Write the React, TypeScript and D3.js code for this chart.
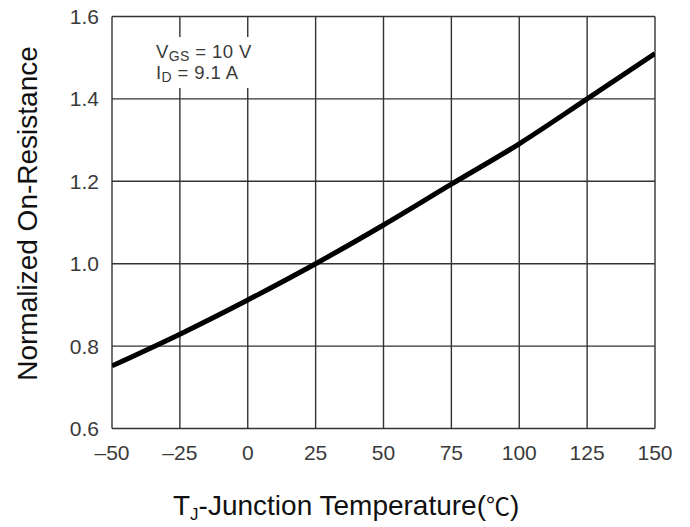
import React from "react";
import * as d3 from "d3";

const temps = [-50, -25, 0, 25, 50, 75, 100, 125, 150];
const resistance = [0.752, 0.829, 0.912, 1.0, 1.094, 1.193, 1.291, 1.4, 1.51];
const xTicks = [-50, -25, 0, 25, 50, 75, 100, 125, 150];
const yTicks = [0.6, 0.8, 1.0, 1.2, 1.4, 1.6];
const yLabel = "Normalized On-Resistance";
const noteLines = [
  { main: "V", sub: "GS", rest: " = 10 V" },
  { main: "I", sub: "D", rest: " = 9.1 A" },
];

const W = 690;
const H = 527;
const M = { left: 112, right: 655, top: 16.5, bottom: 428.5 };
const FONT = "'Liberation Sans', Arial, Helvetica, sans-serif";

export default function App() {
  const x = d3.scaleLinear().domain([-50, 150]).range([M.left, M.right]);
  const y = d3.scaleLinear().domain([0.6, 1.6]).range([M.bottom, M.top]);
  const line = d3
    .line<number>()
    .x((_, i) => x(temps[i]))
    .y((d) => y(d))
    .curve(d3.curveMonotoneX);
  const path = line(resistance) || "";
  const gridColor = "#333";
  const textColor = "#3a3a3a";

  return (
    <div style={{ position: "absolute", left: 0, top: 0 }}>
      <svg width={W} height={H} style={{ display: "block", background: "#fff" }}>
        <defs>
          <clipPath id="plotClip">
            <rect x={M.left} y={M.top} width={M.right - M.left} height={M.bottom - M.top} />
          </clipPath>
        </defs>
        <rect x={0} y={0} width={W} height={H} fill="#fff" />
        {/* grid */}
        {xTicks.map((t) => (
          <line
            key={"gx" + t}
            x1={x(t)}
            x2={x(t)}
            y1={M.top}
            y2={M.bottom}
            stroke={gridColor}
            strokeWidth={1.4}
          />
        ))}
        {yTicks.map((t) => (
          <line
            key={"gy" + t}
            x1={M.left}
            x2={M.right}
            y1={y(t)}
            y2={y(t)}
            stroke={gridColor}
            strokeWidth={1.4}
          />
        ))}
        {/* note box background */}
        <rect x={150} y={37} width={122} height={51} fill="#fff" />
        <g fontFamily={FONT} fill={textColor}>
          {noteLines.map((l, i) => (
            <text key={i} x={156} y={57.5 + i * 21.5} fontSize={18.5} letterSpacing={0.4}>
              {l.main}
              <tspan fontSize={14} dy={3}>
                {l.sub}
              </tspan>
              <tspan dy={-3}>{l.rest}</tspan>
            </text>
          ))}
        </g>
        {/* curve */}
        <path
          d={path}
          fill="none"
          stroke="#000"
          strokeWidth={5}
          strokeLinejoin="round"
          clipPath="url(#plotClip)"
        />
        {/* tick labels */}
        <g fontFamily={FONT} fill={textColor} fontSize={21}>
          {yTicks.map((t) => (
            <text key={"ly" + t} x={M.left - 13} y={y(t)} textAnchor="end" dominantBaseline="central">
              {t.toFixed(1)}
            </text>
          ))}
          {xTicks.map((t) => (
            <text key={"lx" + t} x={x(t)} y={460} textAnchor="middle">
              {t < 0 ? "\u2013" + Math.abs(t) : String(t)}
            </text>
          ))}
        </g>
        {/* axis titles */}
        <text
          transform={`translate(37, 213.5) rotate(-90)`}
          textAnchor="middle"
          fontFamily={FONT}
          fontSize={28}
          fill="#111"
        >
          {yLabel}
        </text>
        <text x={173} y={515} fontFamily={FONT} fontSize={28} fill="#111">
          T
          <tspan fontSize={17} dy={5}>
            J
          </tspan>
          <tspan dy={-5}>-Junction Temperature(</tspan>
          <tspan fontFamily="'Noto Sans CJK SC', sans-serif" fontSize={24}>
            ℃
          </tspan>
          )
        </text>
      </svg>
    </div>
  );
}
